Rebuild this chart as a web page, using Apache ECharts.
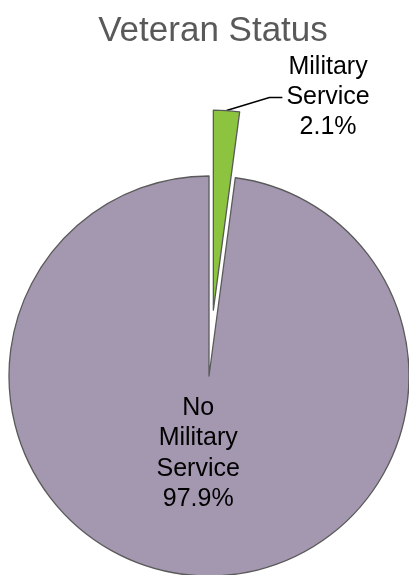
<!DOCTYPE html>
<html><head><meta charset="utf-8">
<script src="https://cdn.jsdelivr.net/npm/echarts@6/dist/echarts.min.js"></script>
<style>html,body{margin:0;padding:0;background:#fff}#c{width:409px;height:575px}</style>
</head><body><div id="c"></div>
<script>
const titleText = 'Veteran Status';
const categories = ['Military\nService', 'No\nMilitary\nService'];
const values = [2.1, 97.9];
const colors = ['#8CC43F', '#A497B0'];

const chart = echarts.init(document.getElementById('c'), null, {renderer: 'canvas'});
const FONT = '"Liberation Sans", Arial, sans-serif';
chart.setOption({
  animation: false,
  title: {text: titleText, left: 208, textAlign: 'center', top: 9,
    textStyle: {fontFamily: FONT, fontSize: 35, fontWeight: 'normal', color: '#595959'}},
  series: [{
    type: 'pie',
    center: [209, 376],
    radius: 200,
    startAngle: 90,
    clockwise: true,
    selectedMode: 'single',
    selectedOffset: 66,
    avoidLabelOverlap: false,
    itemStyle: {borderColor: '#5a5a5a', borderWidth: 1.3},
    emphasis: {disabled: true},
    label: {fontFamily: FONT, fontSize: 25, color: '#000', lineHeight: 30,
      formatter: p => (p.name + '\n' + p.value.toFixed(1) + '%').split('\n').map(s => '{a|' + s + '}').join('\n'),
      rich: {a: {fontFamily: FONT, fontSize: 25, color: '#000', lineHeight: 30, align: 'center'}}},
    labelLine: {lineStyle: {color: '#000', width: 1.5}},
    labelLayout: function (p) {
      if (p.dataIndex === 0 && p.labelLinePoints) {
        const pts = p.labelLinePoints;
        const a = pts[0], c = pts[pts.length - 1];
        return {labelLinePoints: [a, [c[0] - 13, c[1]], c]};
      }
      return {};
    },
    data: categories.map((n, i) => ({
      name: n, value: values[i], selected: i === 0,
      itemStyle: {color: colors[i]},
      label: i === 0 ? {position: 'outside', distanceToLabelLine: 4} :
        {position: 'inside', offset: [-4, -25],
         rich: {a: {fontFamily: FONT, fontSize: 25, color: '#000', lineHeight: 30.5, align: 'center'}}},
      labelLine: {show: i === 0, length: 13, length2: 55}
    }))
  }]
});
</script></body></html>
